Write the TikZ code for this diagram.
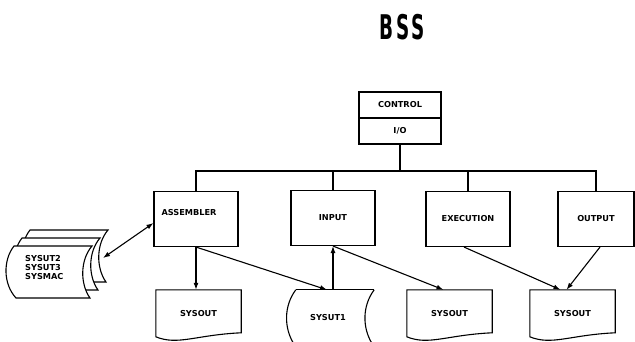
\documentclass[tikz,border=0pt]{standalone}
\usepackage{fontspec}
\setmainfont{DejaVu Sans}
\newfontfamily\titlefont[LetterSpace=14]{DejaVu Sans Condensed}
\usetikzlibrary{arrows.meta,calc}
\begin{document}
\begin{tikzpicture}[x=1pt,y=-1pt,
  lbl/.style={font=\fontsize{8.2}{9}\selectfont\bfseries},
  box/.style={draw,line width=1.1pt,rectangle,minimum width=84pt,minimum height=55pt,inner sep=0pt,lbl},
  docarea/.style={draw=none,rectangle,minimum width=85pt,minimum height=48pt,inner sep=0pt,lbl},
  outline/.style={line width=1.1pt},
  link/.style={line width=1.1pt,-{Latex[length=7pt,width=5pt]}},
  biarrow/.style={line width=1.1pt,{Latex[length=7pt,width=5pt]}-{Latex[length=7pt,width=5pt]}}
]
\useasboundingbox (0,0) rectangle (635,342);

% title
\node[font=\titlefont\bfseries\fontsize{34}{34}\selectfont,xscale=0.6,inner sep=0pt] (title) at (402,27) {BSS};

% control / io
\node[draw,line width=1.1pt,minimum width=82pt,minimum height=26pt,inner sep=0pt,lbl] (ctrl) at (400,105) {CONTROL};
\node[draw,line width=1.1pt,minimum width=82pt,minimum height=26pt,inner sep=0pt,lbl] (io) at (400,131) {I/O};

% program boxes
\node[box] (asm) at (196,219) {};
\node[lbl,anchor=west] (asmtxt) at (158,213) {ASSEMBLER};
\node[box] (inp) at (333,218) {INPUT};
\node[box] (exe) at (468,219) {EXECUTION};
\node[box,minimum width=76pt] (out) at (596,219) {OUTPUT};

% bus
\coordinate (bus) at (400,171);
\draw[outline] (io.south) -- (bus);
\draw[outline] (asm.north) |- (bus) -| (out.north);
\draw[outline] (inp.north) -- (inp.north |- bus);
\draw[outline] (exe.north) -- (exe.north |- bus);

% document areas
\node[docarea] (so1) at (198.5,314) {};
\node[docarea,minimum width=78pt] (ut1) at (335,314) {};
\node[lbl] (ut1txt) at (328,318) {SYSUT1};
\node[docarea] (so2) at (449.5,314) {};
\node[docarea] (so3) at (572.5,314) {};

% document outlines (wavy bottom)
\foreach \d in {so1,so2,so3}{
  \draw[outline,fill=white] (\d.north west) -- (\d.north east) -- ($(\d.north east)+(0,43)$)
    .. controls ($(\d.north east)+(-45,45)$) and ($(\d.north west)+(22,56)$) .. ($(\d.north west)+(0,47)$) -- cycle;
}
\node[lbl] (so1txt) at (so1) {SYSOUT};
\node[lbl] (so2txt) at (so2) {SYSOUT};
\node[lbl] (so3txt) at (so3) {SYSOUT};

% SYSUT1 stored-data shape
\draw[outline] (ut1.north west) -- (ut1.north east);
\draw[outline] (ut1.north west) .. controls ($(ut1.north west)+(-12,16)$) and ($(ut1.north west)+(-12,38)$) .. ($(ut1.north west)+(-2,54)$);
\draw[outline] (ut1.north east) .. controls ($(ut1.north east)+(-12,16)$) and ($(ut1.north east)+(-12,38)$) .. ($(ut1.north east)+(-2,54)$);

% library stack
\foreach \ox/\oy in {30/230,22/238,14/246}{
  \draw[outline,fill=white] (\ox,\oy) -- ({\ox+78},\oy)
    .. controls ({\ox+66},{\oy+14}) and ({\ox+66},{\oy+38}) .. ({\ox+76},{\oy+52})
    -- ({\ox+2},{\oy+52})
    .. controls ({\ox-11},{\oy+38}) and ({\ox-11},{\oy+14}) .. (\ox,\oy) -- cycle;
}
\node[lbl,anchor=west,align=left,inner sep=0pt] (lib) at (25,268) {SYSUT2\\SYSUT3\\SYSMAC};
\coordinate (libport) at (103,258);

% connectors
\draw[biarrow] (libport) -- ($(asm.west)+(0,4)$);
\draw[link] (asm.south) -- (so1.north -| asm.south);
\draw[link] (asm.south) -- ($(ut1.north)+(-8,0)$);
\draw[link] ($(ut1.north)+(-2,0)$) -- (inp.south);
\draw[link] (inp.south) -- ($(so2.north)+(-6,0)$);
\draw[link] ($(exe.south)+(-4,0)$) -- ($(so3.north)+(-12,0)$);
\draw[link] ($(out.south)+(4,0)$) -- ($(so3.north)+(-6,0)$);
\end{tikzpicture}
\end{document}
